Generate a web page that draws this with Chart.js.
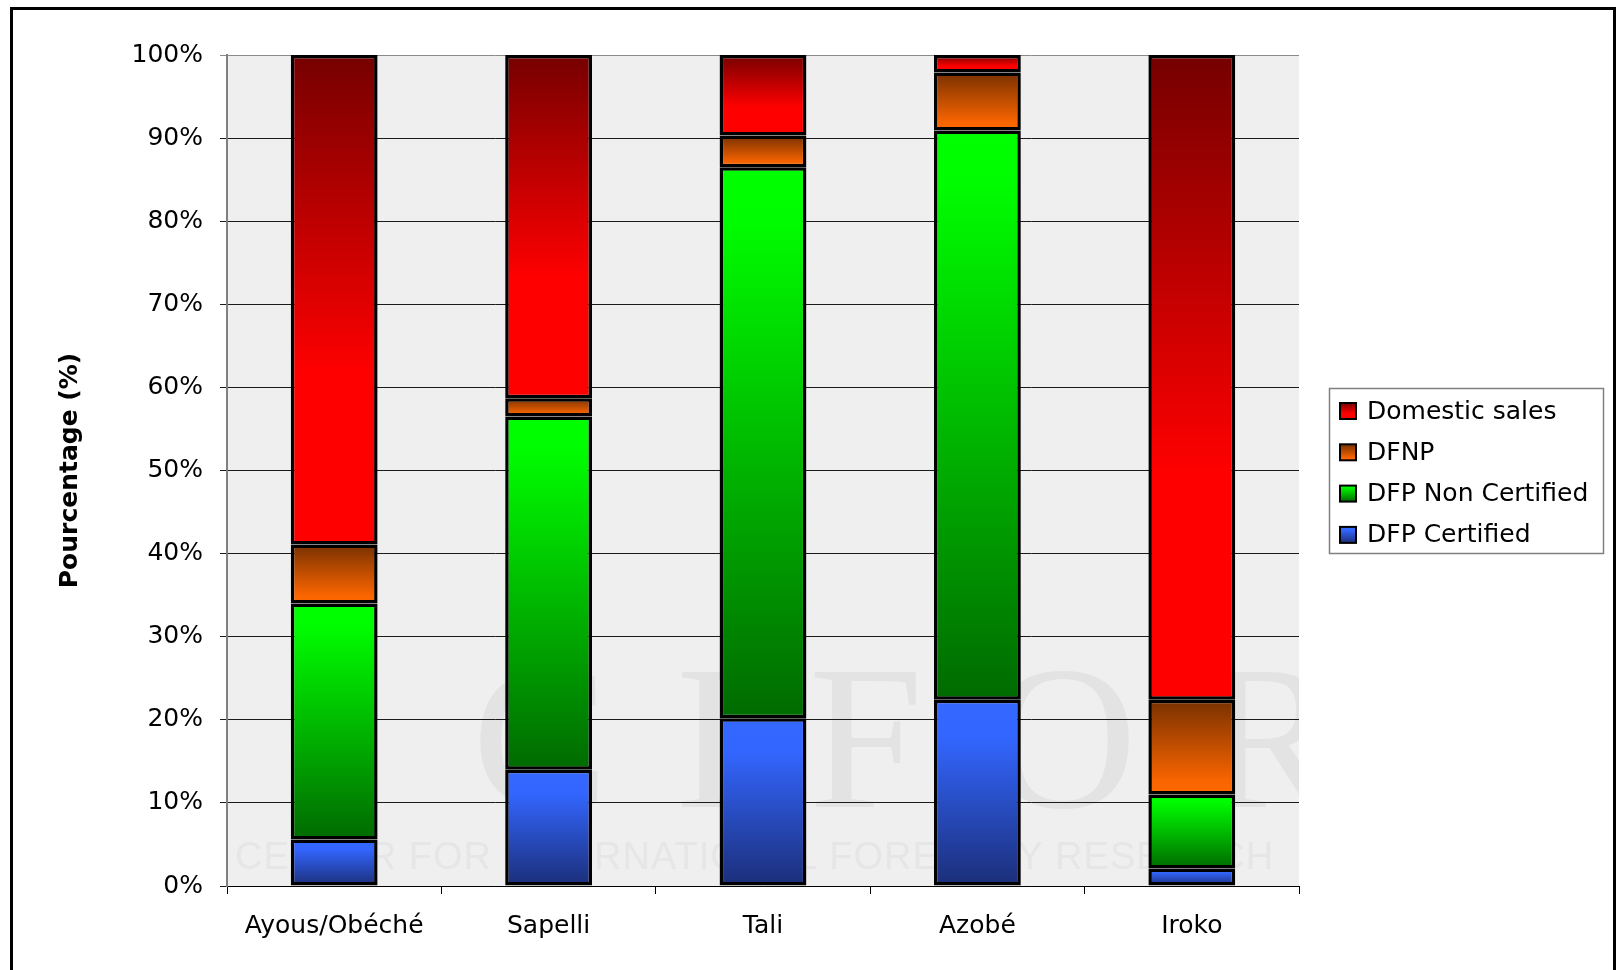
<!DOCTYPE html>
<html>
<head>
<meta charset="utf-8">
<script src="https://cdn.jsdelivr.net/npm/chart.js@4/dist/chart.umd.min.js"></script>
<style>
  html, body { margin: 0; padding: 0; background: #fff; overflow: hidden; }
  #wrap { position: relative; width: 1617px; height: 970px; }
</style>
</head>
<body>
<div id="wrap"><canvas id="chart" width="1617" height="970"></canvas></div>
<script>
// Data:
var species = ['Ayous/Obéché', 'Sapelli', 'Tali', 'Azobé', 'Iroko'];
var dfpCertified    = [5.6, 14.0, 20.2, 22.4, 2.1];
var dfpNonCertified = [28.4, 42.5, 66.3, 68.5, 8.9];
var dfnp            = [7.1, 2.2, 3.8, 7.0, 11.4];
var domesticSales   = [58.9, 41.3, 9.7, 2.1, 77.6];
var yTicks = [0, 10, 20, 30, 40, 50, 60, 70, 80, 90, 100];

var FONT = "'DejaVu Sans', sans-serif";

// Gradient stops for each series (top -> bottom of the segment)
var redStops    = [[0, '#760000'], [0.65, '#ff0000'], [1, '#ff0000']];
var orangeStops = [[0, '#783000'], [0.85, '#f86400'], [1, '#ff6a00']];
var greenStops  = [[0, '#00ff00'], [0.1, '#00fc00'], [1, '#006a00']];
var blueStops   = [[0, '#3468ff'], [0.2, '#3366ff'], [1, '#1b2e78']];

/**
 * Builds a vertical gradient spanning exactly one stacked segment.
 */
function segmentGradient(context, stops) {
    var chart = context.chart;
    if (!chart.chartArea || context.type !== 'data' || !chart.scales.y) return stops[0][1];
    var i = context.datasetIndex, j = context.dataIndex;
    var base = 0;
    for (var k = 0; k < i; k++) base += chart.data.datasets[k].data[j];
    var top = chart.scales.y.getPixelForValue(base + chart.data.datasets[i].data[j]);
    var bot = chart.scales.y.getPixelForValue(base);
    if (!(bot > top)) return stops[0][1];
    var g = chart.ctx.createLinearGradient(0, top, 0, bot);
    stops.forEach(function (s) { g.addColorStop(s[0], s[1]); });
    return g;
}

function makeDataset(label, data, stops) {
    return {
        label: label,
        data: data,
        stops: stops,
        backgroundColor: function (ctx) { return segmentGradient(ctx, stops); },
        borderColor: '#000',
        borderWidth: 3.5,
        borderSkipped: false,
        categoryPercentage: 1.0,
        barPercentage: 0.405
    };
}

// Plot background + faint watermark
var backgroundPlugin = {
    id: 'plotBackground',
    beforeDraw: function (chart) {
        var a = chart.chartArea, c = chart.ctx;
        c.save();
        c.fillStyle = '#efefef';
        c.fillRect(a.left, a.top, a.right - a.left, a.bottom - a.top);
        c.beginPath();
        c.rect(a.left, a.top, a.right - a.left, a.bottom - a.top);
        c.clip();
        c.fillStyle = '#e3e3e3';
        c.font = '205px "Liberation Serif", serif';
        c.textBaseline = 'alphabetic';
        c.textAlign = 'left';
        if ('letterSpacing' in c) c.letterSpacing = '66px';
        c.fillText('CIFOR', a.left + 245, a.top + 752);
        if ('letterSpacing' in c) c.letterSpacing = '1px';
        c.fillStyle = '#e6e6e6';
        c.font = '38px "Liberation Sans", sans-serif';
        c.fillText('CENTER FOR INTERNATIONAL FORESTRY RESEARCH', a.left + 8, a.top + 814);
        c.restore();
    }
};

// Legend box and outer frame
var legendPlugin = {
    id: 'boxLegend',
    afterDraw: function (chart) {
        var a = chart.chartArea, c = chart.ctx;
        var ds = chart.data.datasets.slice().reverse();
        var left = a.right + 30, width = 274, rowH = 41.3, height = 165;
        var top = (a.top + a.bottom) / 2 - height / 2;
        c.save();
        c.fillStyle = '#fff';
        c.fillRect(left, top, width, height);
        c.strokeStyle = '#808080';
        c.lineWidth = 1.5;
        c.strokeRect(left + 0.5, top + 0.5, width, height);
        c.font = '25px ' + FONT;
        c.textBaseline = 'middle';
        c.textAlign = 'left';
        ds.forEach(function (d, n) {
            var cy = top + 23 + n * rowH;
            var bx = left + 11, bs = 16;
            var g = c.createLinearGradient(0, cy - bs / 2, 0, cy + bs / 2);
            d.stops.forEach(function (s) { g.addColorStop(s[0], s[1]); });
            c.fillStyle = g;
            c.fillRect(bx, cy - bs / 2, bs, bs);
            c.strokeStyle = '#000';
            c.lineWidth = 2;
            c.strokeRect(bx, cy - bs / 2, bs, bs);
            c.fillStyle = '#000';
            c.fillText(d.label, left + 38, cy + 1);
        });
        // outer frame
        c.strokeStyle = '#000';
        c.lineWidth = 3;
        c.strokeRect(11.5, 8.5, 1603, 1200);
        c.restore();
    }
};

var chart = new Chart(document.getElementById('chart'), {
    type: 'bar',
    data: {
        labels: species,
        datasets: [
            makeDataset('DFP Certified', dfpCertified, blueStops),
            makeDataset('DFP Non Certified', dfpNonCertified, greenStops),
            makeDataset('DFNP', dfnp, orangeStops),
            makeDataset('Domestic sales', domesticSales, redStops)
        ]
    },
    options: {
        responsive: false,
        devicePixelRatio: 1,
        animation: false,
        layout: { padding: { top: 55, right: 318, left: 0, bottom: 0 } },
        plugins: {
            legend: { display: false },
            tooltip: { enabled: false }
        },
        scales: {
            x: {
                stacked: true,
                afterFit: function (s) { s.height = 84; },
                grid: {
                    offset: true,
                    drawOnChartArea: false,
                    drawTicks: true,
                    tickLength: 8,
                    color: '#000',
                    lineWidth: 1
                },
                border: { color: '#000', width: 1 },
                ticks: {
                    color: '#000',
                    padding: 17,
                    font: { family: FONT, size: 25 }
                }
            },
            y: {
                stacked: true,
                min: 0,
                max: 100,
                afterFit: function (s) { s.width = 227; },
                afterBuildTicks: function (s) {
                    s.ticks = yTicks.map(function (v) { return { value: v }; });
                },
                grid: {
                    color: function (ctx) { return ctx.tick && ctx.tick.value === 100 ? '#8a8a8a' : '#1a1a1a'; },
                    lineWidth: 1,
                    tickLength: 7
                },
                border: { color: '#808080', width: 2 },
                ticks: {
                    color: '#000',
                    padding: 17,
                    font: { family: FONT, size: 25 },
                    callback: function (v) { return v + '%'; }
                },
                title: {
                    display: true,
                    text: 'Pourcentage (%)',
                    color: '#000',
                    padding: { top: 55, bottom: 0 },
                    font: { family: FONT, size: 25, weight: 'bold' }
                }
            }
        }
    },
    plugins: [backgroundPlugin, legendPlugin]
});
</script>
</body>
</html>
